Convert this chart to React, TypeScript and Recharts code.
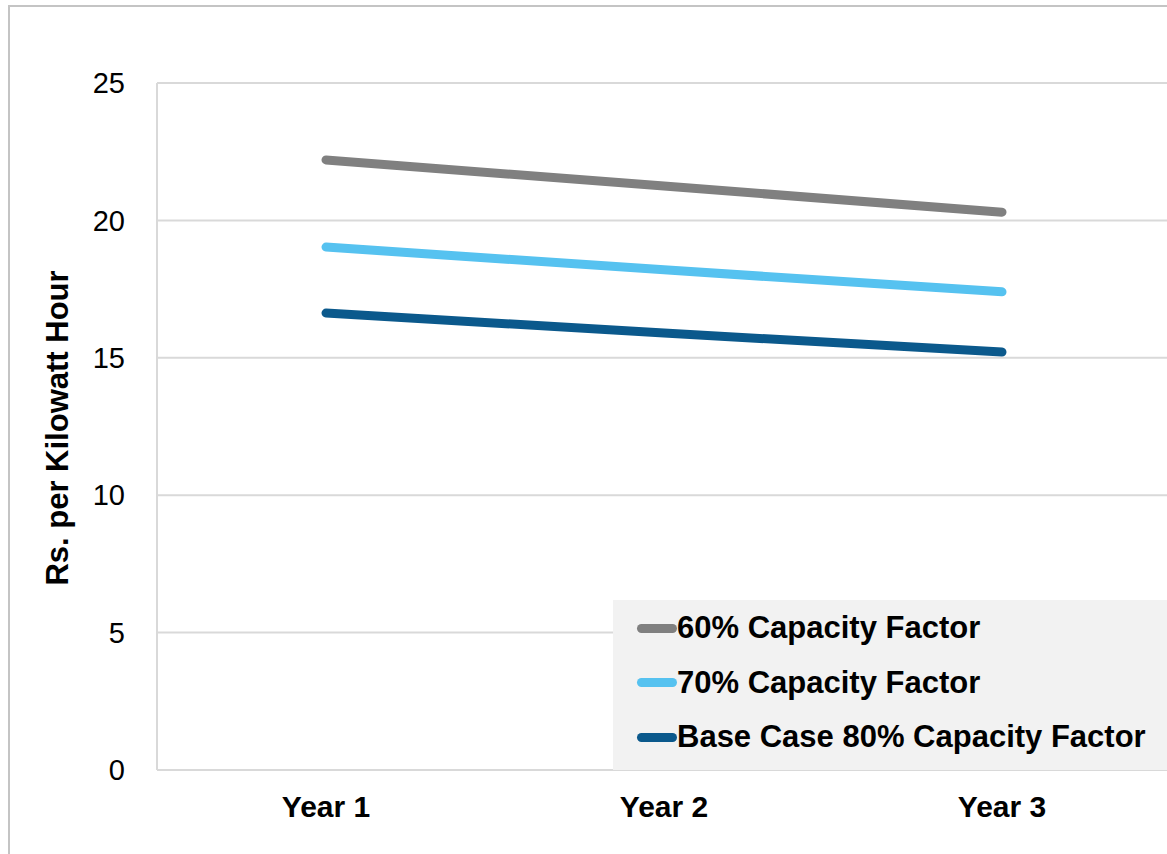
import { LineChart, Line, XAxis, YAxis, CartesianGrid } from 'recharts';

const years = ['Year 1', 'Year 2', 'Year 3'];
const cf60 = [22.2, 21.25, 20.3];
const cf70 = [19.03, 18.2, 17.4];
const cf80 = [16.63, 15.9, 15.21];
const yTicks = [0, 5, 10, 15, 20, 25];

const SERIES = [
  { key: 'cf60', name: '60% Capacity Factor', color: '#808080', values: cf60 },
  { key: 'cf70', name: '70% Capacity Factor', color: '#56C2F0', values: cf70 },
  { key: 'cf80', name: 'Base Case 80% Capacity Factor', color: '#0B598C', values: cf80 },
];

const data = years.map((year, i) => {
  const row: Record<string, string | number> = { year };
  SERIES.forEach((s) => {
    row[s.key] = s.values[i];
  });
  return row;
});

const FONT = 'Liberation Sans, Arial, sans-serif';

function LegendBox() {
  return (
    <div
      style={{
        position: 'absolute',
        left: 613,
        top: 600,
        background: '#F2F2F2',
        width: 560,
        height: 170,
        boxSizing: 'border-box',
        paddingTop: 1,
        fontFamily: FONT,
      }}
    >
      {SERIES.map((s) => (
        <div key={s.key} style={{ display: 'flex', alignItems: 'center', height: 54.5 }}>
          <div
            style={{
              marginLeft: 24,
              width: 40,
              height: 9,
              borderRadius: 5,
              background: s.color,
            }}
          />
          <span style={{ fontSize: 31, fontWeight: 'bold', color: '#000', whiteSpace: 'nowrap' }}>
            {s.name}
          </span>
        </div>
      ))}
    </div>
  );
}

export default function App() {
  return (
    <div
      style={{
        position: 'fixed',
        left: 0,
        top: 0,
        width: 1167,
        height: 854,
        overflow: 'hidden',
        background: '#fff',
      }}
    >
      <div
        style={{
          position: 'absolute',
          left: 8,
          top: 5,
          width: 1300,
          height: 1000,
          border: '2px solid #C4C4C4',
        }}
      />
      <div style={{ position: 'absolute', left: 0, top: 0 }}>
        <LineChart
          width={1171}
          height={854}
          data={data}
          margin={{ top: 83, right: 0, bottom: 0, left: 0 }}
        >
          <CartesianGrid vertical={false} stroke="#D9D9D9" strokeWidth={2} />
          <XAxis
            dataKey="year"
            height={84}
            padding={{ left: 169, right: 169 }}
            tickLine={false}
            axisLine={{ stroke: '#D9D9D9', strokeWidth: 2 }}
            tick={{ fill: '#000', fontSize: 30, fontWeight: 'bold', fontFamily: FONT }}
            tickMargin={20}
          />
          <YAxis
            width={157}
            domain={[0, 25]}
            ticks={yTicks}
            tickLine={false}
            axisLine={{ stroke: '#D9D9D9', strokeWidth: 2 }}
            tick={{ fill: '#000', fontSize: 29, fontFamily: FONT }}
            tickMargin={26}
            label={() => (
              <text
                transform="translate(57,428) rotate(-90)"
                textAnchor="middle"
                dominantBaseline="central"
                fontFamily={FONT}
                fontSize={31}
                fontWeight="bold"
                fill="#000"
              >
                Rs. per Kilowatt Hour
              </text>
            )}
          />
          {SERIES.map((s) => (
            <Line
              key={s.key}
              dataKey={s.key}
              name={s.name}
              stroke={s.color}
              strokeWidth={9}
              strokeLinecap="round"
              dot={false}
              activeDot={false}
              isAnimationActive={false}
            />
          ))}
        </LineChart>
      </div>
      <LegendBox />
    </div>
  );
}
